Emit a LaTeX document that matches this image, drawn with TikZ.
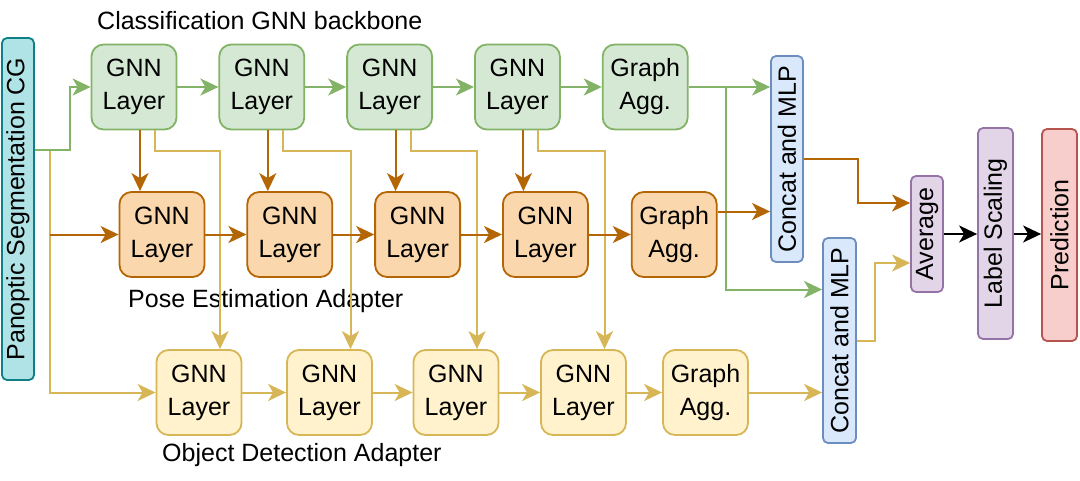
\documentclass[tikz,border=0pt]{standalone}
\usepackage{fontspec}
\setmainfont{Liberation Sans}
\usetikzlibrary{positioning,arrows.meta}
\definecolor{gfill}{HTML}{D5E8D4}
\definecolor{gline}{HTML}{82B366}
\definecolor{ofill}{HTML}{FAD7AC}
\definecolor{oline}{HTML}{B46504}
\definecolor{yfill}{HTML}{FFF2CC}
\definecolor{yline}{HTML}{D6B656}
\definecolor{bfill}{HTML}{DAE8FC}
\definecolor{bline}{HTML}{6C8EBF}
\definecolor{pfill}{HTML}{E1D5E7}
\definecolor{pline}{HTML}{9673A6}
\definecolor{rfill}{HTML}{F8CECC}
\definecolor{rline}{HTML}{B85450}
\definecolor{tfill}{HTML}{B0E3E6}
\definecolor{tline}{HTML}{0E8088}
\tikzset{
  layer/.style={rectangle, rounded corners=12pt, minimum width=85pt, minimum height=85pt, inner sep=0pt, align=center, line width=1.8pt, font=\fontsize{25}{33}\selectfont},
  greenlayer/.style={layer, draw=gline, fill=gfill},
  orangelayer/.style={layer, draw=oline, fill=ofill},
  yellowlayer/.style={layer, draw=yline, fill=yfill},
  bar/.style={rectangle, rotate=90, rounded corners=5pt, minimum height=32pt, inner sep=0pt, line width=1.8pt, font=\fontsize{25}{33}\selectfont},
  caption/.style={anchor=west, inner sep=0pt, font=\fontsize{25}{33}\selectfont},
  arrowtip/.style={-{Stealth[length=18pt,width=17pt,inset=5pt]}},
  garrow/.style={arrowtip, line width=2pt, draw=gline},
  oarrow/.style={arrowtip, line width=2pt, draw=oline},
  yarrow/.style={arrowtip, line width=2pt, draw=yline},
  karrow/.style={arrowtip, line width=2pt, draw=black}
}

\begin{document}
\begin{tikzpicture}[x=1pt, y=-1pt]
  \useasboundingbox (0,0) rectangle (1080,480);

  % Input
  \node (input) [bar, draw=tline, fill=tfill, minimum width=342pt] at (18,209) {Panoptic Segmentation CG};

  % Classification backbone
  \node (g1) [greenlayer] at (134,87) {GNN\\Layer};
  \node (g2) [greenlayer, right=41pt of g1] {GNN\\Layer};
  \node (g3) [greenlayer, right=41pt of g2] {GNN\\Layer};
  \node (g4) [greenlayer, right=41pt of g3] {GNN\\Layer};
  \node (gagg) [greenlayer, right=41pt of g4] {Graph\\Agg.};
  \node [caption] at (97,21) {Classification GNN backbone};

  % Pose estimation adapter
  \node (o1) [orangelayer] at (162,234.5) {GNN\\Layer};
  \node (o2) [orangelayer, right=41pt of o1] {GNN\\Layer};
  \node (o3) [orangelayer, right=41pt of o2] {GNN\\Layer};
  \node (o4) [orangelayer, right=41pt of o3] {GNN\\Layer};
  \node (oagg) [orangelayer, right=42pt of o4] {Graph\\Agg.};
  \node [caption] at (128,301) {Pose Estimation Adapter};

  % Object detection adapter
  \node (y1) [yellowlayer] at (199,392.5) {GNN\\Layer};
  \node (y2) [yellowlayer] at (329.5,392.5) {GNN\\Layer};
  \node (y3) [yellowlayer] at (456,392.5) {GNN\\Layer};
  \node (y4) [yellowlayer] at (583.5,392.5) {GNN\\Layer};
  \node (yagg) [yellowlayer] at (705.5,392.5) {Graph\\Agg.};
  \node [caption] at (162,455) {Object Detection Adapter};

  % Heads
  \node (cat1) [bar, draw=bline, fill=bfill, minimum width=206pt] at (787,159) {Concat and MLP};
  \node (cat2) [bar, draw=bline, fill=bfill, minimum width=205pt, minimum height=33pt] at (839.5,340.5) {Concat and MLP};
  \node (avg) [bar, draw=pline, fill=pfill, minimum width=116pt] at (927,234) {Average};
  \node (scale) [bar, draw=pline, fill=pfill, minimum width=211pt, minimum height=35pt] at (995.5,233.5) {Label Scaling};
  \node (pred) [bar, draw=rline, fill=rfill, minimum width=212pt, minimum height=35pt] at (1059.5,235) {Prediction};

  % Split points
  \coordinate (insplit) at (50,150);
  \coordinate (gsplit) at (726,87);

  % Input arrows
  \draw [yarrow] (insplit) |- (y1.west);
  \draw [oarrow] (insplit |- o1.west) -- (o1.west);
  \draw [garrow] (input.south |- insplit) -| (70,87) -- (g1.west);

  % Backbone to detection adapter
  \draw [yarrow] ([xshift=21pt]g1.south) -- ++(0,21) -| ([xshift=21pt]y1.north);
  \draw [yarrow] ([xshift=21pt]g2.south) -- ++(0,21) -| ([xshift=21pt]y2.north);
  \draw [yarrow] ([xshift=21pt]g3.south) -- ++(0,21) -| ([xshift=21pt]y3.north);
  \draw [yarrow] ([xshift=21pt]g4.south) -- ++(0,21) -| ([xshift=21pt]y4.north);

  % Backbone to pose adapter
  \draw [oarrow] ([xshift=6pt]g1.south) -- ([xshift=6pt]g1.south |- o1.north);
  \draw [oarrow] ([xshift=6pt]g2.south) -- ([xshift=6pt]g2.south |- o2.north);
  \draw [oarrow] ([xshift=6pt]g3.south) -- ([xshift=6pt]g3.south |- o3.north);
  \draw [oarrow] ([xshift=6pt]g4.south) -- ([xshift=6pt]g4.south |- o4.north);

  % Chains
  \draw [garrow] (g1) -- (g2);
  \draw [garrow] (g2) -- (g3);
  \draw [garrow] (g3) -- (g4);
  \draw [garrow] (g4) -- (gagg);
  \draw [yarrow] (y1) -- (y2);
  \draw [yarrow] (y2) -- (y3);
  \draw [yarrow] (y3) -- (y4);
  \draw [yarrow] (y4) -- (yagg);
  \draw [oarrow] (o1) -- (o2);
  \draw [oarrow] (o2) -- (o3);
  \draw [oarrow] (o3) -- (o4);
  \draw [oarrow] (o4) -- (oagg);

  % Into the heads
  \draw [garrow] (gagg.east) -- (gagg.east -| cat1.north);
  \draw [garrow] (gsplit) |- ([yshift=51pt]cat2.north);
  \draw [oarrow] ([yshift=23pt]oagg.east) -- ([yshift=23pt]oagg.east -| cat1.north);
  \draw [yarrow] (yagg.east) -- (yagg.east -| cat2.north);
  \draw [oarrow] (cat1.south) -- ++(54,0) |- ([yshift=31pt]avg.north);
  \draw [yarrow] (cat2.south) -- ++(18,0) |- ([yshift=-29pt]avg.north);
  \draw [karrow] (avg.south) -- (avg.south -| scale.north);
  \draw [karrow] (scale.south |- avg.south) -- (scale.south |- avg.south -| pred.north);
\end{tikzpicture}
\end{document}
